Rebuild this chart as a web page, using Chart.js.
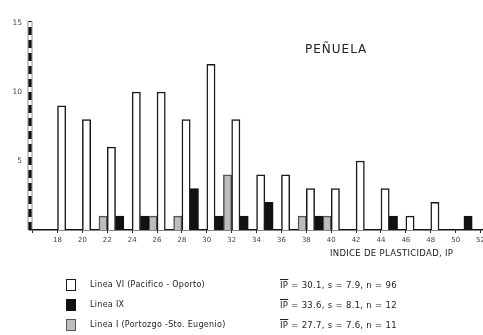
<!DOCTYPE html>
<html><head><meta charset="utf-8">
<script src="https://cdn.jsdelivr.net/npm/chart.js@4/dist/chart.umd.min.js"></script>
<style>
html,body{margin:0;padding:0;background:#fff;overflow:hidden}
#wrap{position:relative;width:483px;height:335px;background:#fff}
canvas{position:absolute;left:0;top:0}
.t{position:absolute;font-family:"DejaVu Sans",sans-serif;color:#222;white-space:nowrap;line-height:1}
.box{position:absolute;width:8px;height:10px;border:1.5px solid #222;box-sizing:content-box}
.ov{text-decoration:overline}
</style></head><body>
<div id="wrap">
<canvas id="c" width="483" height="335"></canvas>
<div class="t" id="title" style="left:305px;top:43px;font-size:12px;letter-spacing:1px">PEÑUELA</div>
<div class="t" id="xt" style="left:330px;top:249px;font-size:8.5px;letter-spacing:0.3px">INDICE DE PLASTICIDAD, IP</div>
<div id="legend"></div>
</div>
<script>
// Class midpoints of the plasticity index classes (18-20 -> 19, ...)
const classMidpoints = [19,21,23,25,27,29,31,33,35,37,39,41,43,45,47,49,51];
// Counts per class
const lineaVI = [9,8,6,10,10,8,12,8,4,4,3,3,5,3,1,2,0];
const lineaIX = [0,0,1,1,0,3,1,1,2,0,1,0,0,1,0,0,1];
const lineaI  = [0,1,0,1,1,0,4,0,0,1,1,0,0,0,0,0,0];
const seriesNames = ["Linea VI (Pacifico - Oporto)", "Linea IX", "Linea I (Portozgo -Sto. Eugenio)"];
const seriesStats = ["= 30.1, s = 7.9, n = 96", "= 33.6, s = 8.1, n = 12", "= 27.7, s = 7.6, n = 11"];
const yTicks = [5, 10, 15];

const fills = ['#ffffff', '#111111', '#bdbdbd'];
const borders = ['#1a1a1a', '#111111', '#555555'];

function pts(arr){ return classMidpoints.map((x,i)=>({x:x, y:arr[i]})); }

// dashed (scanned-look) y axis line
const dashedAxis = {
  id: 'dashedAxis',
  afterDatasetsDraw(chart) {
    const ys = chart.scales.y, ctx = chart.ctx;
    const x = ys.right;
    const top = ys.top - 2, bottom = ys.bottom;
    ctx.save();
    ctx.strokeStyle = '#777'; ctx.lineWidth = 0.8;
    ctx.beginPath();
    ctx.moveTo(x - 2, top); ctx.lineTo(x - 2, bottom);
    ctx.moveTo(x + 2, top); ctx.lineTo(x + 2, bottom);
    ctx.stroke();
    ctx.strokeStyle = '#111'; ctx.lineWidth = 3.2;
    ctx.setLineDash([8, 5]);
    ctx.lineDashOffset = -6;
    ctx.beginPath();
    ctx.moveTo(x, top); ctx.lineTo(x, bottom);
    ctx.stroke();
    ctx.restore();
  }
};

new Chart(document.getElementById('c'), {
  type: 'bar',
  data: {
    datasets: [lineaVI, lineaIX, lineaI].map((arr, i) => ({
      label: seriesNames[i],
      data: pts(arr),
      backgroundColor: fills[i],
      borderColor: borders[i],
      borderWidth: 1.5,
      categoryPercentage: 1,
      barPercentage: 1
    }))
  },
  plugins: [dashedAxis],
  options: {
    responsive: false,
    devicePixelRatio: 1,
    animation: false,
    layout: { padding: { top: 23, left: 0, right: 0, bottom: 0 } },
    plugins: { legend: { display: false }, tooltip: { enabled: false } },
    scales: {
      x: {
        type: 'linear', min: 15.79, max: 52.2, offset: false,
        ticks: { stepSize: 2, includeBounds: false, autoSkip: false, maxRotation: 0,
                 font: { size: 7, family: 'DejaVu Sans' }, color: '#444', padding: 3,
                 callback: v => (v >= 18 ? v : '') },
        grid: { drawOnChartArea: false, offset: false, tickLength: 3, color: '#222', lineWidth: 1 },
        border: { color: '#111', width: 1.5 },
        afterFit: s => { s.paddingLeft = 0; s.paddingRight = 0; s.height = 105; }
      },
      y: {
        min: 0, max: 15,
        afterBuildTicks: s => { s.ticks = yTicks.map(v => ({ value: v })); },
        ticks: { font: { size: 7.5, family: 'DejaVu Sans' }, color: '#444', padding: 8 },
        grid: { drawOnChartArea: false, drawTicks: false },
        border: { display: false },
        afterFit: s => { s.width = 30; s.paddingTop = 0; s.paddingBottom = 0; }
      }
    }
  }
});

// legend rows
const lg = document.getElementById('legend');
const rowY = [279, 299, 319];
seriesNames.forEach((name, i) => {
  const b = document.createElement('div');
  b.className = 'box';
  b.style.left = '66px'; b.style.top = rowY[i] + 'px';
  b.style.background = fills[i]; b.style.borderColor = borders[i];
  lg.appendChild(b);
  const t = document.createElement('div');
  t.className = 't';
  t.style.left = '90px'; t.style.top = (rowY[i] + 2) + 'px'; t.style.fontSize = '8px';
  t.style.letterSpacing = '0.3px';
  t.textContent = name;
  lg.appendChild(t);
  const s = document.createElement('div');
  s.className = 't';
  s.style.left = '280px'; s.style.top = (rowY[i] + 2) + 'px'; s.style.fontSize = '8.5px';
  s.style.letterSpacing = '0.3px';
  s.innerHTML = '<span class="ov">IP</span> ' + seriesStats[i];
  lg.appendChild(s);
});
</script>
</body></html>
